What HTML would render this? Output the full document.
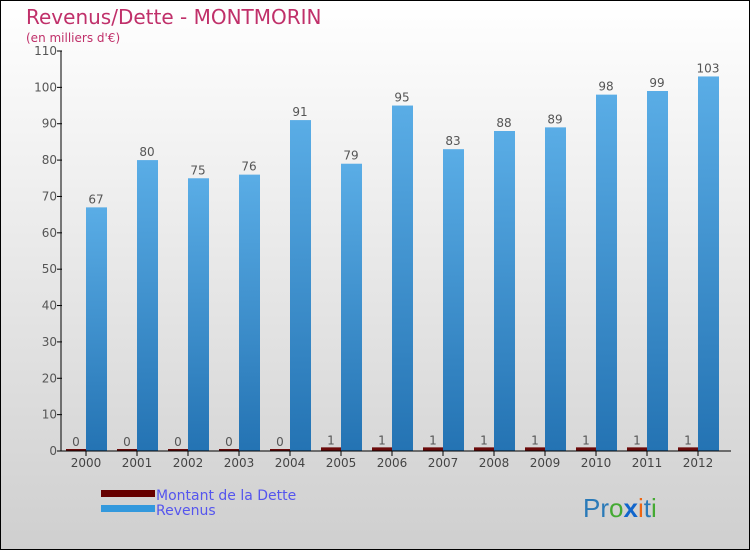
<!DOCTYPE html>
<html><head><meta charset="utf-8"><style>
body{margin:0}
#c{position:relative;width:748px;height:548px;border:1px solid #000;background:linear-gradient(#ffffff,#cfcfcf);font-family:"DejaVu Sans","Liberation Sans",sans-serif;overflow:hidden}
</style></head><body>
<div id="c">
<svg width="748" height="548" style="position:absolute;left:0;top:0" id="svg">
<defs>
<linearGradient id="gb" x1="0" y1="0" x2="0" y2="1"><stop offset="0" stop-color="#5aade6"/><stop offset="1" stop-color="#2473b3"/></linearGradient>
</defs>
<text x="25" y="23" font-size="20" fill="#c0306a">Revenus/Dette - MONTMORIN</text>
<text x="25" y="41" font-size="12" fill="#c0306a">(en milliers d'€)</text>
<g id="g"></g>
<rect x="100" y="489" width="54" height="7" fill="#660000"/>
<rect x="100" y="504" width="54" height="7" fill="#3399dd"/>
<text x="155" y="499" font-size="14" fill="#5555ee">Montant de la Dette</text>
<text x="155" y="514" font-size="14" fill="#5555ee">Revenus</text>
<text x="582" y="516" font-size="26" font-family="Liberation Sans, sans-serif"><tspan fill="#2a7ab8">Pr</tspan><tspan fill="#44aa33">o</tspan><tspan fill="#1166cc" font-weight="bold">x</tspan><tspan fill="#ee6611">i</tspan><tspan fill="#2a7ab8">t</tspan><tspan fill="#44aa33">i</tspan></text>
</svg>
</div>
<script>
const categories=["2000","2001","2002","2003","2004","2005","2006","2007","2008","2009","2010","2011","2012"];
const dette=[0,0,0,0,0,1,1,1,1,1,1,1,1];
const revenus=[67,80,75,76,91,79,95,83,88,89,98,99,103];
const yTicks=[0,10,20,30,40,50,60,70,80,90,100,110];
const NS="http://www.w3.org/2000/svg";
const g=document.getElementById('g');
const y=v=>450-v*400/110;
const xg=i=>65+i*51;
function mk(t,a){const e=document.createElementNS(NS,t);for(const k in a)e.setAttribute(k,a[k]);g.appendChild(e);return e;}
yTicks.forEach(t=>{
 const l=mk('line',{x1:56,x2:61,y1:y(t),y2:y(t),stroke:'#000'});
 
 
 const tx=mk('text',{x:56,y:y(t)+4,'text-anchor':'end','font-size':12,fill:'#555'});
 tx.textContent=t;
 
 
});
categories.forEach((c,i)=>{
 const x=xg(i);
 const hd=Math.max(dette[i]*400/110,2);
 const r=mk('rect',{x:x,y:450-hd,width:20,height:hd,fill:'#6a0a0a'});
 
 
 const b=mk('rect',{x:x+20,y:y(revenus[i]),width:21,height:450-y(revenus[i]),fill:'url(#gb)'});
 
 
 const t1=mk('text',{x:x+10,y:450-hd-3,'text-anchor':'middle','font-size':12,fill:'#555'});
 t1.textContent=dette[i];
 
 
 const t2=mk('text',{x:x+30,y:y(revenus[i])-4,'text-anchor':'middle','font-size':12,fill:'#555'});
 t2.textContent=revenus[i];
 
 
 const tk=mk('line',{x1:x+20,x2:x+20,y1:450,y2:455,stroke:'#000'});
 
 
 const xl=mk('text',{x:x+20,y:466,'text-anchor':'middle','font-size':12,fill:'#444'});
 xl.textContent=c;
 
 
});
const ya=mk('line',{x1:60,x2:60,y1:50,y2:450,stroke:'#000'});


const xa=mk('line',{x1:60,x2:730,y1:450,y2:450,stroke:'#000'});


</script>
</body></html>
